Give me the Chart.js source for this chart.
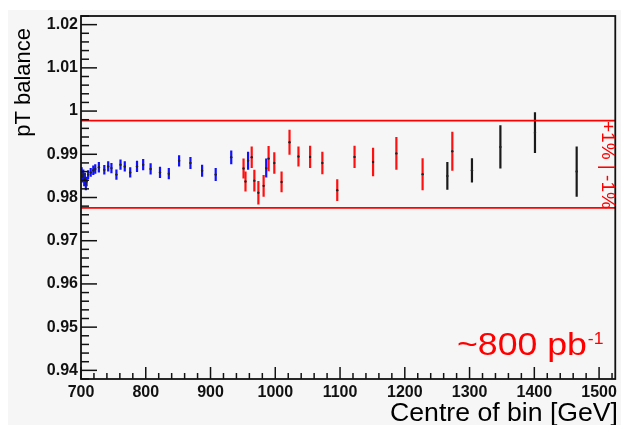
<!DOCTYPE html>
<html>
<head>
<meta charset="utf-8">
<script src="https://cdn.jsdelivr.net/npm/chart.js@4.4.0/dist/chart.umd.min.js"></script>
<style>
  html, body { margin: 0; padding: 0; background: #fff; }
  #wrap { width: 621px; height: 425px; position: relative; }
</style>
</head>
<body>
<div id="wrap"><canvas id="myChart"></canvas></div>
<script>
// low pT bins (blue)
const blueX = [701, 702, 703.5, 705, 706, 707.5, 708.6, 711, 715, 719, 722, 727.6, 736, 742, 747, 754.7, 761, 767.6, 776, 786.5, 796, 807.5, 822, 835.6, 851.5, 869, 887, 908, 932, 958, 986];
const blueY = [0.9860, 0.9848, 0.9853, 0.9840, 0.9845, 0.9832, 0.9837, 0.9853, 0.9858, 0.9863, 0.9866, 0.9870, 0.9864, 0.9872, 0.9868, 0.9853, 0.9876, 0.9872, 0.9858, 0.9872, 0.9876, 0.9866, 0.9858, 0.9855, 0.9885, 0.9880, 0.9862, 0.9853, 0.9893, 0.9885, 0.9868];
const blueErr = [0.0010, 0.0013, 0.0012, 0.0014, 0.0012, 0.0015, 0.0011, 0.0010, 0.0010, 0.0011, 0.0011, 0.0012, 0.0011, 0.0012, 0.0012, 0.0012, 0.0012, 0.0012, 0.0012, 0.0013, 0.0013, 0.0013, 0.0013, 0.0013, 0.0013, 0.0014, 0.0014, 0.0015, 0.0016, 0.0021, 0.0022];

// mid pT bins (red)
const redX = [951, 954, 963.6, 967.7, 973.9, 982, 989.7, 998.5, 1009.7, 1022, 1035.8, 1053.8, 1072.7, 1095.7, 1122.4, 1151, 1187, 1227.5, 1273.4];
const redY = [0.9867, 0.9837, 0.9893, 0.9839, 0.9811, 0.9827, 0.9890, 0.9880, 0.9836, 0.9928, 0.9895, 0.9894, 0.9880, 0.9817, 0.9894, 0.9882, 0.9902, 0.9854, 0.9907];
const redErr = [0.0023, 0.0023, 0.0025, 0.0025, 0.0027, 0.0025, 0.0029, 0.0025, 0.0024, 0.0029, 0.0023, 0.0026, 0.0026, 0.0025, 0.0026, 0.0033, 0.0038, 0.0037, 0.0045];

// high pT bins (black)
const blackX = [1265.7, 1303.7, 1347.6, 1401, 1465.4];
const blackY = [0.9850, 0.9863, 0.9917, 0.9950, 0.9860];
const blackErr = [0.0032, 0.0028, 0.0050, 0.0047, 0.0058];

// +1% / -1% band
const bandY = [0.9978, 0.9776];
const xRange = [700, 1525];
const yRange = [0.938, 1.022];

const xTicks = [700, 800, 900, 1000, 1100, 1200, 1300, 1400, 1500];
const yTicks = [0.94, 0.95, 0.96, 0.97, 0.98, 0.99, 1.00, 1.01, 1.02];

const tickFont = { family: 'Liberation Sans', size: 16, weight: 'bold' };

function toPoints(xs, ys, errs) {
    return xs.map((x, i) => ({ x: x, y: ys[i], err: errs[i] }));
}

function bandLine(y) {
    return {
        type: 'line',
        data: [{ x: xRange[0], y: y }, { x: xRange[1], y: y }],
        borderColor: '#ff0000',
        borderWidth: 1.6,
        pointRadius: 0,
        fill: false
    };
}

function pointSet(xs, ys, errs, color) {
    return {
        type: 'scatter',
        data: toPoints(xs, ys, errs),
        barColor: color,
        pointRadius: 1.2,
        pointBorderWidth: 0,
        pointBackgroundColor: '#222'
    };
}

// background like the ROOT canvas
const bgPlugin = {
    id: 'bg',
    beforeDraw(chart) {
        const ctx = chart.ctx;
        ctx.save();
        ctx.fillStyle = '#ffffff';
        ctx.fillRect(0, 0, chart.width, chart.height);
        ctx.fillStyle = '#f6f6f6';
        ctx.fillRect(8, 10, chart.width - 8, chart.height - 10);
        ctx.restore();
    }
};

// vertical error bars
const errPlugin = {
    id: 'errbars',
    beforeDatasetsDraw(chart) {
        const ctx = chart.ctx;
        const ys = chart.scales.y;
        const area = chart.chartArea;
        ctx.save();
        ctx.beginPath();
        ctx.rect(area.left, area.top, area.right - area.left, area.bottom - area.top);
        ctx.clip();
        chart.data.datasets.forEach((ds, i) => {
            if (!ds.barColor) return;
            const meta = chart.getDatasetMeta(i);
            ctx.strokeStyle = ds.barColor;
            ctx.lineWidth = 2.2;
            meta.data.forEach((el, j) => {
                const p = ds.data[j];
                ctx.beginPath();
                ctx.moveTo(el.x, ys.getPixelForValue(p.y - p.err));
                ctx.lineTo(el.x, ys.getPixelForValue(p.y + p.err));
                ctx.stroke();
            });
        });
        ctx.restore();
    }
};

function drawText(ctx, text, x, y, font, color, align, sx, rot) {
    ctx.save();
    ctx.translate(x, y);
    if (rot) ctx.rotate(rot);
    ctx.scale(sx || 1, 1);
    ctx.font = font;
    ctx.fillStyle = color;
    ctx.textAlign = align;
    ctx.textBaseline = 'alphabetic';
    ctx.fillText(text, 0, 0);
    ctx.restore();
}

// frame, inward ticks and labels
const framePlugin = {
    id: 'frame',
    afterDraw(chart) {
        const ctx = chart.ctx;
        const a = chart.chartArea;
        const xs = chart.scales.x, ys = chart.scales.y;
        ctx.save();
        ctx.strokeStyle = '#111';
        ctx.lineWidth = 1.5;
        // y ticks
        for (let k = 469; k <= 511; k++) {
            const py = ys.getPixelForValue(k * 0.002);
            const len = (k % 5 === 0) ? 16 : 8;
            ctx.beginPath();
            ctx.moveTo(a.left, py);
            ctx.lineTo(a.left + len, py);
            ctx.stroke();
        }
        // x ticks
        for (let k = 35; k <= 76; k++) {
            const px = xs.getPixelForValue(k * 20);
            const len = (k % 5 === 0) ? 12 : 6;
            ctx.beginPath();
            ctx.moveTo(px, a.bottom);
            ctx.lineTo(px, a.bottom - len);
            ctx.stroke();
        }
        ctx.lineWidth = 1.8;
        ctx.strokeRect(a.left, a.top, a.right - a.left, a.bottom - a.top);
        ctx.restore();

        drawText(ctx, 'Centre of bin [GeV]', 618, 421, '25px "Liberation Sans"', '#000', 'right', 1.065);
        drawText(ctx, 'pT balance', 30, 28, '22px "Liberation Sans"', '#000', 'right', 1, -Math.PI / 2);
        drawText(ctx, '+1% | -1%', 602, 121, '19px "Liberation Sans"', '#ff0000', 'left', 1, Math.PI / 2);

        // luminosity label with superscript
        ctx.save();
        ctx.font = '31px "Liberation Sans"';
        const w = ctx.measureText('~800 pb').width * 1.15;
        ctx.restore();
        drawText(ctx, '~800 pb', 457, 355, '31px "Liberation Sans"', '#ff0000', 'left', 1.15);
        drawText(ctx, '-1', 457 + w + 1, 344, '16px "Liberation Sans"', '#ff0000', 'left', 1.1);
    }
};

const config = {
    data: {
        datasets: [
            bandLine(bandY[0]),
            bandLine(bandY[1]),
            pointSet(blueX, blueY, blueErr, '#1010ff'),
            pointSet(redX, redY, redErr, '#ff1010'),
            pointSet(blackX, blackY, blackErr, '#1a1a1a')
        ]
    },
    options: {
        responsive: true,
        maintainAspectRatio: false,
        animation: false,
        layout: { padding: { top: 16, right: 3, left: 0, bottom: 0 } },
        plugins: { legend: { display: false }, tooltip: { enabled: false } },
        scales: {
            x: {
                type: 'linear',
                min: xRange[0],
                max: xRange[1],
                afterBuildTicks: s => { s.ticks = xTicks.map(v => ({ value: v })); },
                afterFit: s => { s.height = 46; },
                grid: { display: false, drawTicks: false },
                border: { display: false },
                ticks: { font: tickFont, color: '#111', padding: 4, maxRotation: 0, autoSkip: false, callback: v => String(v) }
            },
            y: {
                type: 'linear',
                min: yRange[0],
                max: yRange[1],
                afterBuildTicks: s => { s.ticks = yTicks.map(v => ({ value: v })); },
                afterFit: s => { s.width = 81; },
                grid: { display: false, drawTicks: false },
                border: { display: false },
                ticks: { font: tickFont, color: '#111', padding: 3, autoSkip: false, callback: v => String(Number(v.toFixed(2))) }
            }
        }
    },
    plugins: [bgPlugin, errPlugin, framePlugin]
};

const chart = new Chart(document.getElementById('myChart'), config);
</script>
</body>
</html>
